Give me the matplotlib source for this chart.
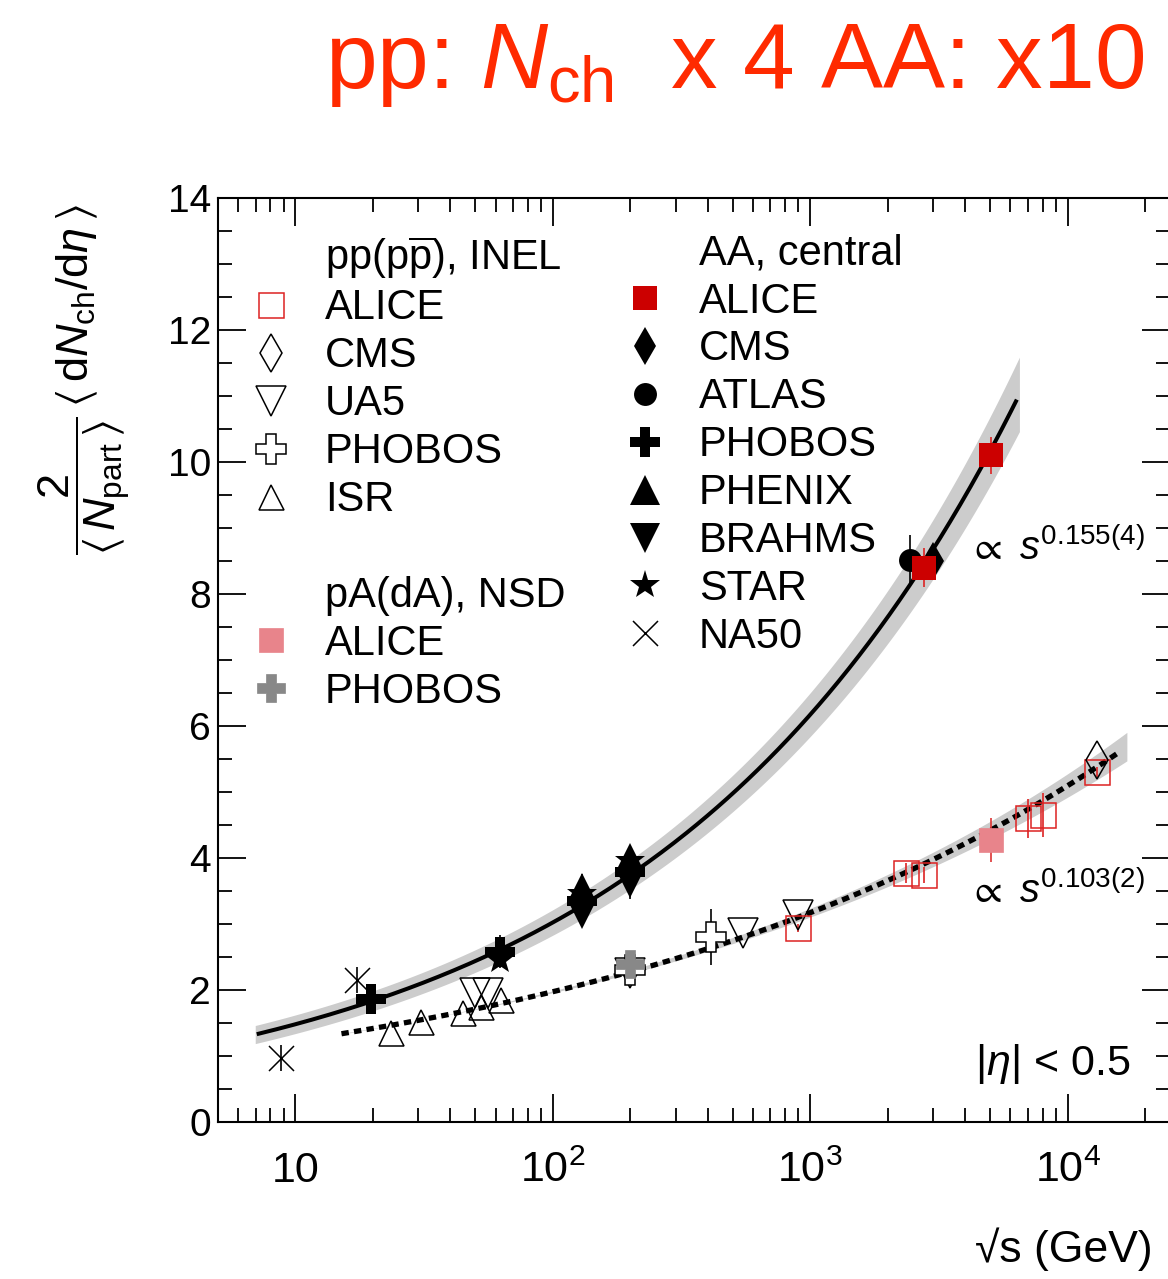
import numpy as np
import matplotlib
matplotlib.use('Agg')
import matplotlib.pyplot as plt
from matplotlib.ticker import FixedLocator, FixedFormatter, LogLocator, NullFormatter, MultipleLocator
from matplotlib.lines import Line2D

plt.rcParams['font.family'] = ['Liberation Sans', 'DejaVu Sans']
plt.rcParams['mathtext.fontset'] = 'custom'
plt.rcParams['mathtext.rm'] = 'Liberation Sans'
plt.rcParams['mathtext.it'] = 'Liberation Sans:italic'
plt.rcParams['mathtext.bf'] = 'Liberation Sans:bold'
plt.rcParams['mathtext.fallback'] = 'stixsans'

# ---- pp(ppbar), INEL ----
alice_pp_x = [900, 2360, 2760, 7000, 8000, 13000]
alice_pp_y = [2.94, 3.77, 3.74, 4.60, 4.65, 5.30]
alice_pp_err = [0.06, 0.15, 0.12, 0.30, 0.33, 0.08]
cms_pp_x = [13000]
cms_pp_y = [5.48]
ua5_x = [50, 56, 200, 546, 900]
ua5_y = [1.95, 1.95, 2.25, 2.86, 3.14]
phobos_pp_x = [200, 410]
phobos_pp_y = [2.30, 2.80]
phobos_pp_err = [0.15, 0.42]
isr_x = [23.6, 30.8, 44.7, 52.8, 62.7]
isr_y = [1.35, 1.52, 1.65, 1.74, 1.85]

# ---- pA(dA), NSD ----
alice_pa_x = [5020]
alice_pa_y = [4.27]
alice_pa_err = [0.33]
phobos_da_x = [200]
phobos_da_y = [2.40]
phobos_da_err = [0.15]

# ---- AA, central ----
alice_aa_x = [2760, 5020]
alice_aa_y = [8.40, 10.10]
alice_aa_err = [0.30, 0.28]
cms_aa_x = [3000]
cms_aa_y = [8.50]
atlas_x = [2450]
atlas_y = [8.52]
atlas_err = [0.37]
phobos_aa_x = [19.6, 62.4, 130, 200]
phobos_aa_y = [1.87, 2.58, 3.35, 3.78]
phenix_x = [130, 200]
phenix_y = [3.55, 4.00]
brahms_x = [130, 200]
brahms_y = [3.15, 3.62]
star_x = [62.4, 130, 200]
star_y = [2.45, 3.45, 3.95]
rhic_err = [0.25, 0.40, 0.40]
na50_x = [8.8, 17.3]
na50_y = [0.97, 2.15]
na50_err = [0.2, 0.2]

# power-law fits, dN/deta ~ s^b
aa_norm, aa_exp = 0.725, 0.155
pp_norm, pp_exp = 0.764, 0.103

xtick_vals = [10, 100, 1000, 10000]
xtick_labels = ['10', r'$10^{2}$', r'$10^{3}$', r'$10^{4}$']

fig = plt.figure(figsize=(11.68, 12.79), dpi=100)
ax = fig.add_axes([0.1866, 0.1228, 0.8151, 0.7224])

red = '#cc0000'
pink = '#e8848b'
grey = '#888888'

# fit curves with uncertainty bands
xb = np.logspace(np.log10(6.98), np.log10(6500), 300)
yb = aa_norm * (xb ** 2) ** aa_exp
db = np.sqrt(0.12 ** 2 + (0.05 * yb) ** 2)
ax.fill_between(xb, yb - db, yb + db, color='#cccccc', lw=0, zorder=1)
xl = np.logspace(np.log10(7.2), np.log10(6300), 300)
ax.plot(xl, aa_norm * (xl ** 2) ** aa_exp, color='black', lw=2.9, zorder=2)

xb2 = np.logspace(np.log10(15), np.log10(17000), 300)
yb2 = pp_norm * (xb2 ** 2) ** pp_exp
rel = (xb2 / 30.0) ** 0.006
ax.fill_between(xb2, yb2 / rel, yb2 * rel, color='#cccccc', lw=0, zorder=1)
xl2 = np.logspace(np.log10(15.1), np.log10(15800), 300)
ax.plot(xl2, pp_norm * (xl2 ** 2) ** pp_exp, color='black', lw=3.8,
        dashes=(1.4, 1.0), zorder=2)

# error bars
eb = dict(fmt='none', elinewidth=1.2, capsize=0, zorder=3)
ax.errorbar(alice_pp_x, alice_pp_y, yerr=alice_pp_err, ecolor='#dd2222', **eb)
ax.errorbar(phobos_pp_x, phobos_pp_y, yerr=phobos_pp_err, ecolor='black', **eb)
ax.errorbar(alice_pa_x, alice_pa_y, yerr=alice_pa_err, ecolor='#dd3333', **eb)
ax.errorbar(phobos_da_x, phobos_da_y, yerr=phobos_da_err, ecolor='black', **eb)
ax.errorbar(alice_aa_x, alice_aa_y, yerr=alice_aa_err, ecolor='#dd2222', **eb)
ax.errorbar(atlas_x, atlas_y, yerr=atlas_err, ecolor='black', **eb)
ax.errorbar(phobos_aa_x[1:], phobos_aa_y[1:], yerr=rhic_err, ecolor='black', **eb)
ax.errorbar(na50_x, na50_y, yerr=na50_err, ecolor='black', **eb)

mk = dict(ls='none', zorder=4)
h_isr, = ax.plot(isr_x, isr_y, marker='^', ms=18, mfc='none', mec='black', mew=1.1, **mk)
h_ua5, = ax.plot(ua5_x, ua5_y, marker='v', ms=22, mfc='none', mec='black', mew=1.1, **mk)
h_phobos_pp, = ax.plot(phobos_pp_x, phobos_pp_y, marker='P', ms=22, mfc='white', mec='black', mew=1.1, **mk)
h_phobos_da, = ax.plot(phobos_da_x, phobos_da_y, marker='P', ms=20, mfc=grey, mec=grey, mew=0.5, **mk)
h_alice_pp, = ax.plot(alice_pp_x, alice_pp_y, marker='s', ms=18, mfc='none', mec='#dd2222', mew=1.1, **mk)
h_cms_pp, = ax.plot(cms_pp_x, cms_pp_y, marker='d', ms=19.3, mfc='none', mec='black', mew=1.1, **mk)
h_alice_pa, = ax.plot(alice_pa_x, alice_pa_y, marker='s', ms=17, mfc=pink, mec=pink, mew=0.5, **mk)

h_na50, = ax.plot(na50_x, na50_y, marker='x', ms=18, mec='black', mew=1.1, **mk)
h_phenix, = ax.plot(phenix_x, phenix_y, marker='^', ms=21, color='black', mew=0, **mk)
h_brahms, = ax.plot(brahms_x, brahms_y, marker='v', ms=21, color='black', mew=0, **mk)
h_phobos_aa, = ax.plot(phobos_aa_x, phobos_aa_y, marker='P', ms=21, color='black', mew=0, **mk)
h_star, = ax.plot(star_x, star_y, marker='*', ms=22, color='black', mew=0, **mk)
h_atlas, = ax.plot(atlas_x, atlas_y, marker='o', ms=16.5, color='black', mew=0, **mk)
h_cms_aa, = ax.plot(cms_aa_x, cms_aa_y, marker='d', ms=19.3, color='black', mew=0, **mk)
h_alice_aa, = ax.plot(alice_aa_x, alice_aa_y, marker='s', ms=17, color=red, mew=0, zorder=5, ls='none')

ax.set_xscale('log')
ax.set_xlim(5, 25000)
ax.set_ylim(0, 14)
ax.xaxis.set_major_locator(FixedLocator(xtick_vals))
ax.xaxis.set_major_formatter(FixedFormatter(xtick_labels))
ax.xaxis.set_minor_locator(LogLocator(base=10, subs=np.arange(2, 10)))
ax.xaxis.set_minor_formatter(NullFormatter())
ax.yaxis.set_major_locator(MultipleLocator(2))
ax.yaxis.set_minor_locator(MultipleLocator(0.5))
ax.tick_params(which='both', direction='in', top=True, right=True, width=1.3)
ax.tick_params(which='major', length=20)
ax.tick_params(which='minor', length=10)
ax.tick_params(axis='y', labelsize=28, pad=5)
ax.tick_params(axis='x', labelsize=31, pad=43)
for lab in ax.get_xticklabels():
    lab.set_verticalalignment('baseline')
for sp in ax.spines.values():
    sp.set_linewidth(1.5)

blank = Line2D([], [], ls='none', marker='none')
leg_kw = dict(loc='upper left', frameon=False, fontsize=30, numpoints=1,
              handlelength=1.0, handletextpad=0.8, borderpad=0,
              borderaxespad=0, labelspacing=0.19)
leg1 = ax.legend([blank, h_alice_pp, h_cms_pp, h_ua5, h_phobos_pp, h_isr,
                  blank, blank, h_alice_pa, h_phobos_da],
                 [r'pp(p$\overline{\mathrm{p}}$), INEL', 'ALICE', 'CMS', 'UA5',
                  'PHOBOS', 'ISR', ' ', 'pA(dA), NSD', 'ALICE', 'PHOBOS'],
                 bbox_to_anchor=(0.0336, 0.9614), **leg_kw)
ax.add_artist(leg1)
ax.legend([blank, h_alice_aa, h_cms_aa, h_atlas, h_phobos_aa, h_phenix,
           h_brahms, h_star, h_na50],
          ['AA, central', 'ALICE', 'CMS', 'ATLAS', 'PHOBOS', 'PHENIX',
           'BRAHMS', 'STAR', 'NA50'],
          bbox_to_anchor=(0.4265, 0.9614), **leg_kw)

ax.text(0.788, 0.608, r'$\propto\ s^{0.155(4)}$', transform=ax.transAxes,
        fontsize=28.5, va='baseline')
ax.text(0.788, 0.237, r'$\propto\ s^{0.103(2)}$', transform=ax.transAxes,
        fontsize=28.5, va='baseline')
ax.text(0.958, 0.051, r'|$\eta$| < 0.5', transform=ax.transAxes,
        fontsize=31, va='baseline', ha='right')

fig.text(0.987, 0.0133, '√s (GeV)', fontsize=32, ha='right', va='baseline')
fig.text(0.073, 0.703,
         r'$\dfrac{2}{\left\langle\,N_{\mathrm{part}}\,\right\rangle}\,'
         r'\left\langle\,\mathrm{d}N_{\mathrm{ch}}/\mathrm{d}\eta\,\right\rangle$',
         fontsize=32.5, rotation=90, ha='center', va='center')
fig.text(0.278, 0.931, r'pp: $N_{\mathrm{ch}}$  x 4 AA: x10', color='#ff2a00',
         fontsize=67, va='baseline')

fig.savefig('out.png', dpi=100)
